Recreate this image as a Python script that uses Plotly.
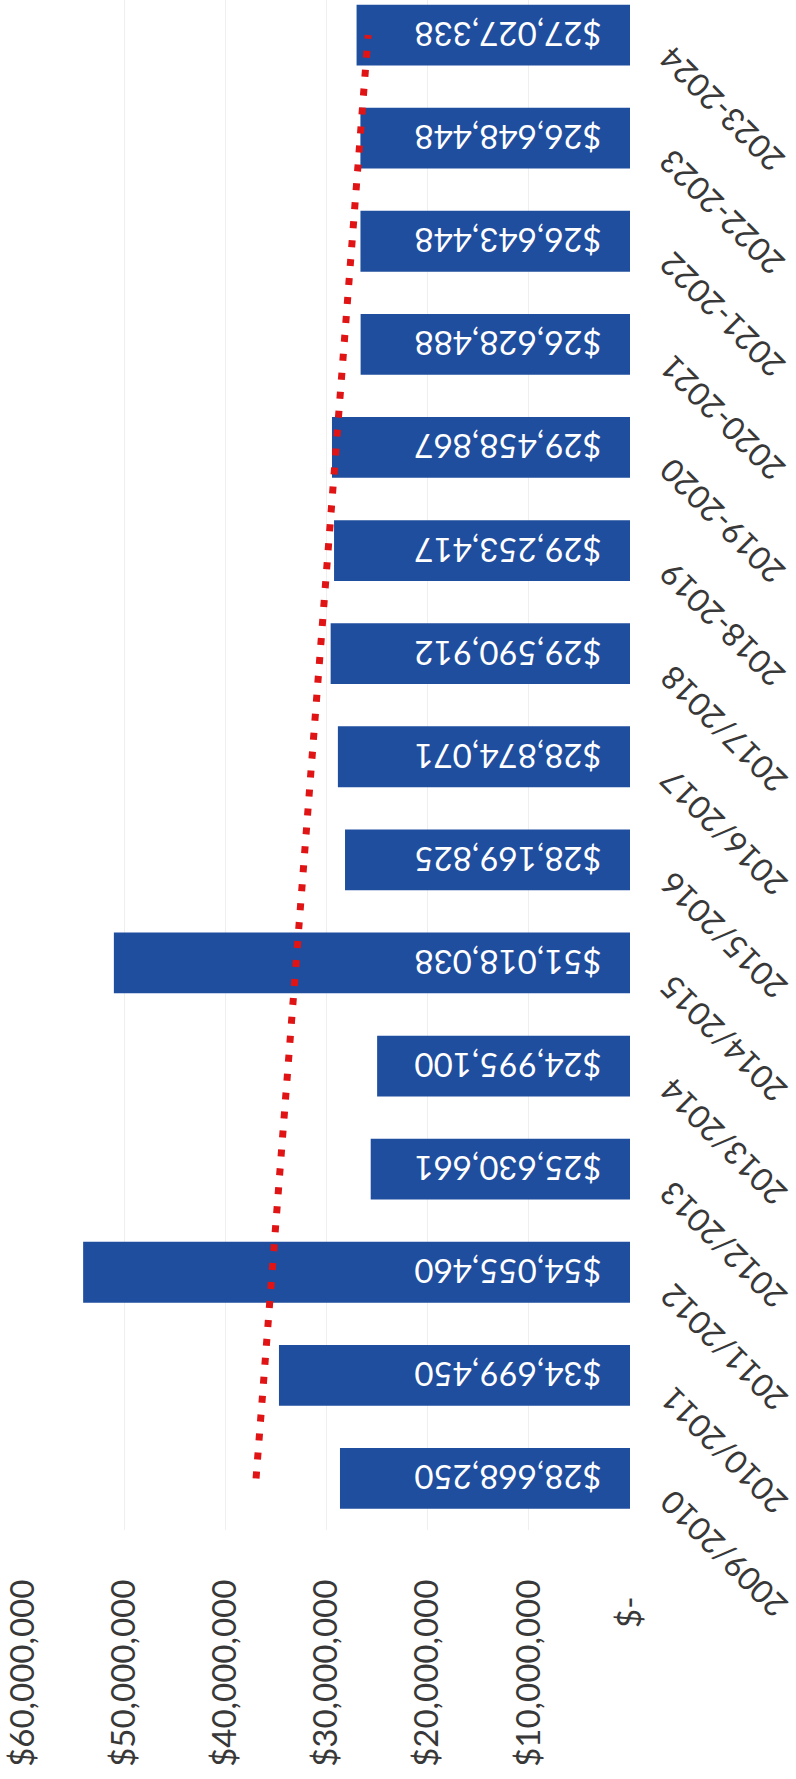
import numpy as np
import plotly.graph_objects as go

# Fiscal years, oldest first (drawn bottom to top)
years = [
    "2009/2010", "2010/2011", "2011/2012", "2012/2013", "2013/2014",
    "2014/2015", "2015/2016", "2016/2017", "2017/2018", "2018-2019",
    "2019-2020", "2020-2021", "2021-2022", "2022-2023", "2023-2024",
]

# Annual amounts in dollars
amounts = [
    28668250, 34699450, 54055460, 25630661, 24995100,
    51018038, 28169825, 28874071, 29590912, 29253417,
    29458867, 26628488, 26643448, 26648448, 27027338,
]

# Value axis ticks
value_ticks = [0, 10000000, 20000000, 30000000, 40000000, 50000000, 60000000]
value_tick_labels = ["$-\u00a0\u00a0", "$10,000,000", "$20,000,000", "$30,000,000",
                     "$40,000,000", "$50,000,000", "$60,000,000"]

FONT = "Lato"
BAR_BLUE = "#1F4E9F"
TREND_RED = "#E01414"
INK = "#383838"

# Least-squares linear trend across the fiscal years
idx = np.arange(len(years))
slope, intercept = np.polyfit(idx, amounts, 1)
trend = intercept + slope * idx

bar_labels = ["\u00a0\u00a0\u00a0" + f"${v:,}" for v in amounts]

fig = go.Figure()
fig.add_trace(go.Bar(
    y=years, x=amounts, orientation="h",
    marker=dict(color=BAR_BLUE, line=dict(width=0)),
    text=bar_labels, textposition="inside", insidetextanchor="start",
    textangle=180, constraintext="none",
    textfont=dict(family=FONT, size=33, color="white"),
    hoverinfo="skip",
))
fig.add_trace(go.Scatter(
    y=years, x=trend, mode="lines",
    line=dict(color=TREND_RED, width=7, dash="7px,12px"),
    hoverinfo="skip",
))

# Slanted fiscal-year labels beside the bar bases
for yr in years:
    fig.add_annotation(
        x=0, y=yr, xref="x", yref="y", text=yr, showarrow=False,
        textangle=-135, xanchor="left", yanchor="top",
        xshift=20, yshift=-3, borderpad=0,
        font=dict(family=FONT, size=32, color=INK),
    )

fig.update_layout(
    width=796, height=1779,
    margin=dict(l=23, r=166, t=0, b=249),
    paper_bgcolor="white", plot_bgcolor="white",
    showlegend=False, bargap=0.41,
    xaxis=dict(
        range=[60000000, 0],
        tickvals=value_ticks, ticktext=value_tick_labels,
        tickangle=-90, ticks="", ticklabelstandoff=42,
        tickfont=dict(family=FONT, size=33, color=INK),
        showgrid=True, gridcolor="#efefef", gridwidth=1,
        zeroline=False, showline=False,
    ),
    yaxis=dict(
        type="category", range=[-0.5, 14.34],
        showticklabels=False, showgrid=False, zeroline=False, showline=False,
    ),
)

fig.write_html("out.html")
